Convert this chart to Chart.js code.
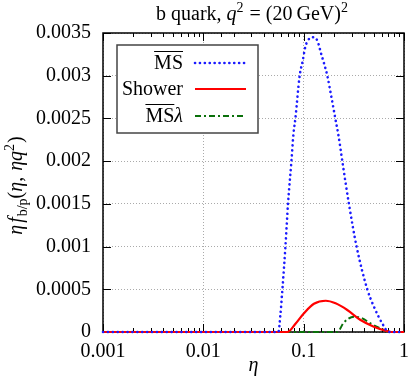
<!DOCTYPE html>
<html>
<head>
<meta charset="utf-8">
<script src="https://cdn.jsdelivr.net/npm/chart.js@4"></script>
<style>
  html, body { margin: 0; padding: 0; background: #fff; }
  #wrap { width: 410px; height: 382px; }
</style>
</head>
<body>
<div id="wrap"><canvas id="c" width="410" height="382"></canvas></div>
<script>
// values
const msEta  = [0.001, 0.056, 0.0586, 0.0614, 0.0658, 0.0698, 0.0755, 0.079, 0.0827, 0.0912, 0.0977, 0.104,
                0.1156, 0.1266, 0.1369, 0.150, 0.159, 0.172, 0.191, 0.2067, 0.223, 0.2427, 0.2825, 0.3368,
                0.4305, 0.50, 0.607, 0.706, 1];
const msVal  = [0, 0, 0.0002, 0.0005, 0.001, 0.0015, 0.002, 0.00231, 0.0025, 0.003, 0.00317, 0.00334,
                0.00344, 0.00345, 0.00341, 0.00325, 0.00315, 0.003, 0.00272, 0.0025, 0.00229, 0.002, 0.0015, 0.001,
                0.0005, 0.0003, 0.0001, 0, 0];
const showerEta = [0.001, 0.0689, 0.0833, 0.1007, 0.1266, 0.166, 0.208, 0.272, 0.369, 0.50, 0.68, 0.75, 1];
const showerVal = [0, 0, 0.0001, 0.00022, 0.00033, 0.000366, 0.000336, 0.000258, 0.00014, 0.000062, 0.00001, 0, 0];
const lamEta = [0.001, 0.216, 0.252, 0.317, 0.384, 0.464, 0.583, 0.73, 1];
const lamVal = [0, 0, 0.000113, 0.000179, 0.00016, 0.0001, 0.000043, 0, 0];

const xMajor = [0.001, 0.01, 0.1, 1];
const xMajorLabels = ['0.001', '0.01', '0.1', '1'];

const FONT = 'Liberation Serif';
const pts = (xs, ys) => xs.map((x, i) => ({ x, y: ys[i] }));
const isMajor = v => Math.abs(Math.log10(v) - Math.round(Math.log10(v))) < 1e-6;

// rich text: parts = [{t, i: italic, s: 'sub'|'sup', bar: overline}]
function partFont(p) {
  const size = p.s ? 14 : 20;
  return (p.i ? 'italic ' : '') + size + 'px ' + FONT;
}
function richWidth(ctx, parts) {
  let w = 0;
  parts.forEach(p => { ctx.font = partFont(p); w += ctx.measureText(p.t).width + (p.gap || 0); });
  return w;
}
function drawRich(ctx, parts, x, y, align) {
  const w = richWidth(ctx, parts);
  let cx = align === 'center' ? x - w / 2 : align === 'right' ? x - w : x;
  ctx.textBaseline = 'alphabetic';
  ctx.textAlign = 'left';
  parts.forEach(p => {
    ctx.font = partFont(p);
    const dy = p.s === 'sub' ? 5 : p.s === 'sup' ? -8 : 0;
    ctx.fillText(p.t, cx, y + dy);
    const tw = ctx.measureText(p.t).width;
    if (p.bar) {
      ctx.save();
      ctx.lineWidth = 1;
      ctx.beginPath();
      ctx.moveTo(cx, y - 17.5);
      ctx.lineTo(cx + tw, y - 17.5);
      ctx.stroke();
      ctx.restore();
    }
    cx += tw + (p.gap || 0);
  });
}

const legendLabels = [
  [{ t: 'MS', bar: true }],
  [{ t: 'Shower' }],
  [{ t: 'MS', bar: true }, { t: 'λ', i: true }]
];

const decor = {
  id: 'decor',
  beforeDatasetsDraw(chart) {
    const { ctx, chartArea: a, scales: { x, y } } = chart;
    ctx.save();
    ctx.strokeStyle = '#000';
    ctx.lineWidth = 1;
    // inward ticks
    ctx.beginPath();
    x.ticks.forEach(t => {
      const px = Math.round(x.getPixelForValue(t.value)) + 0.5;
      const len = isMajor(t.value) ? 8 : 4;
      ctx.moveTo(px, a.bottom); ctx.lineTo(px, a.bottom - len);
      ctx.moveTo(px, a.top); ctx.lineTo(px, a.top + len);
    });
    y.ticks.forEach(t => {
      const py = Math.round(y.getPixelForValue(t.value)) + 0.5;
      ctx.moveTo(a.left, py); ctx.lineTo(a.left + 8, py);
      ctx.moveTo(a.right, py); ctx.lineTo(a.right - 8, py);
    });
    ctx.stroke();
    // frame
    ctx.lineWidth = 1.5;
    ctx.strokeRect(a.left, a.top, a.right - a.left, a.bottom - a.top);
    ctx.restore();
  },
  afterDraw(chart) {
    const { ctx, chartArea: a } = chart;
    ctx.save();
    ctx.fillStyle = '#000';
    ctx.strokeStyle = '#000';

    // title
    drawRich(ctx, [
      { t: 'b quark, ' }, { t: 'q', i: true }, { t: '2', s: 'sup', gap: 1 },
      { t: ' = (20\u2009GeV)' }, { t: '2', s: 'sup' }
    ], 252, 20, 'center');

    // x title
    drawRich(ctx, [{ t: 'η', i: true }], (a.left + a.right) / 2, 371, 'center');

    // y title
    ctx.save();
    ctx.translate(22, (a.top + a.bottom) / 2 + 3);
    ctx.rotate(-Math.PI / 2);
    drawRich(ctx, [
      { t: 'η', i: true, gap: 2 }, { t: 'f', i: true, gap: 1 }, { t: 'b/p', s: 'sub' },
      { t: '(' }, { t: 'η', i: true }, { t: ', ', gap: 1 }, { t: 'ηq', i: true }, { t: '2', s: 'sup', gap: 1 }, { t: ')' }
    ], 0, 0, 'center');
    ctx.restore();

    // legend box
    ctx.fillStyle = '#fff';
    ctx.fillRect(117, 45, 141, 88);
    ctx.strokeStyle = '#444';
    ctx.lineWidth = 1.5;
    ctx.strokeRect(117, 45, 141, 88);
    const rows = [63, 89, 116];
    chart.data.datasets.forEach((ds, i) => {
      ctx.fillStyle = '#000';
      ctx.strokeStyle = '#000';
      drawRich(ctx, legendLabels[i], 183, rows[i] + 6, 'right');
      ctx.save();
      ctx.strokeStyle = ds.borderColor;
      ctx.lineWidth = ds.borderWidth;
      ctx.lineCap = ds.borderCapStyle || 'butt';
      ctx.setLineDash(ds.borderDash || []);
      ctx.beginPath();
      ctx.moveTo(195, rows[i]);
      ctx.lineTo(246, rows[i]);
      ctx.stroke();
      ctx.restore();
    });
    ctx.restore();
  }
};

new Chart(document.getElementById('c'), {
  type: 'line',
  data: {
    datasets: [
      {
        label: 'MS',
        data: pts(msEta, msVal),
        borderColor: '#1a1aff',
        borderWidth: 2.6,
        borderDash: [0.1, 4.8],
        borderCapStyle: 'round',
        pointRadius: 0,
        clip: 3,
        cubicInterpolationMode: 'monotone'
      },
      {
        label: 'Shower',
        data: pts(showerEta, showerVal),
        borderColor: '#ff0000',
        borderWidth: 2.2,
        pointRadius: 0,
        clip: 3,
        cubicInterpolationMode: 'monotone'
      },
      {
        label: 'MSλ',
        data: pts(lamEta, lamVal),
        borderColor: '#0a700a',
        borderWidth: 2,
        borderDash: [6, 3, 2, 3],
        pointRadius: 0,
        clip: 3,
        cubicInterpolationMode: 'monotone'
      }
    ]
  },
  options: {
    responsive: false,
    animation: false,
    layout: { padding: { top: 33, right: 6, left: 0, bottom: 0 } },
    plugins: { legend: { display: false }, title: { display: false }, tooltip: { enabled: false } },
    scales: {
      x: {
        type: 'logarithmic',
        min: 0.001,
        max: 1,
        afterFit: s => { s.height = 50; s.paddingRight = 0; s.paddingLeft = 0; },
        border: { display: false, dash: [1, 2] },
        grid: {
          drawTicks: false,
          lineWidth: 1,
          color: c => (c.tick && isMajor(c.tick.value) ? '#aaa' : 'rgba(0,0,0,0)')
        },
        ticks: {
          autoSkip: false,
          maxRotation: 0,
          padding: 8,
          color: '#000',
          font: { family: FONT, size: 20 },
          callback: v => {
            const i = xMajor.findIndex(m => Math.abs(m - v) / m < 1e-6);
            return i >= 0 ? xMajorLabels[i] : '';
          }
        }
      },
      y: {
        min: 0,
        max: 0.0035,
        afterFit: s => { s.width = 103; },
        border: { display: false, dash: [1, 2] },
        grid: { drawTicks: false, lineWidth: 1, color: '#aaa' },
        ticks: {
          stepSize: 0.0005,
          padding: 12,
          color: '#000',
          font: { family: FONT, size: 20 },
          callback: v => String(+v.toFixed(4))
        }
      }
    }
  },
  plugins: [decor]
});
</script>
</body>
</html>
